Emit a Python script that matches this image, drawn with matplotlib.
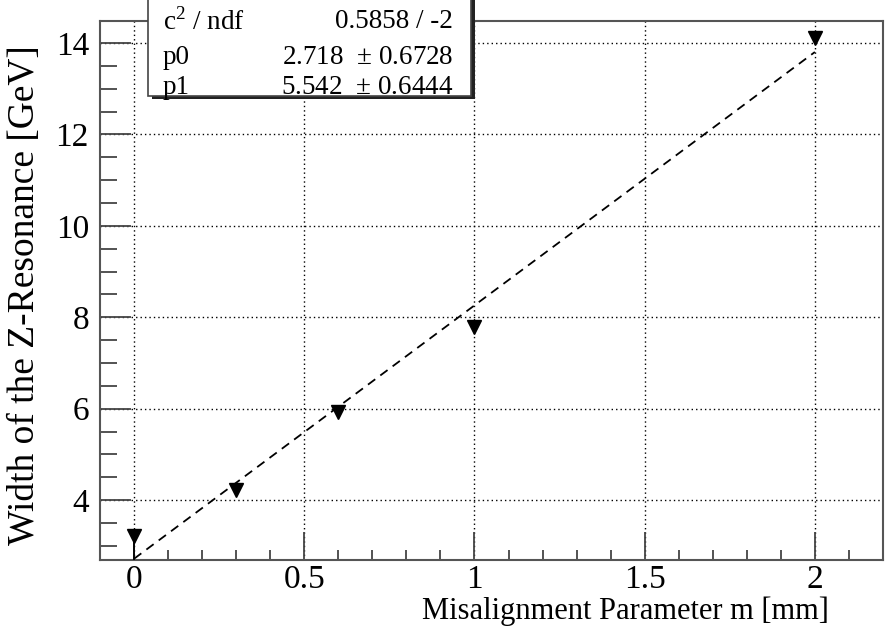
import numpy as np
import matplotlib
matplotlib.use('Agg')
import matplotlib.pyplot as plt
from matplotlib.patches import Rectangle
from matplotlib.ticker import MultipleLocator

plt.rcParams['font.family'] = ['Liberation Serif', 'DejaVu Serif']
plt.rcParams['mathtext.fontset'] = 'custom'
plt.rcParams['mathtext.rm'] = 'Liberation Serif'

# Measured widths vs misalignment
m_vals = [0.0, 0.3, 0.6, 1.0, 2.0]
width_vals = [3.21, 4.22, 5.92, 7.79, 14.1]
err_lo = [0.6, 0.0, 0.0, 0.0, 0.0]
err_hi = [0.0, 0.0, 0.0, 0.0, 0.0]

# Linear fit result  width = p0 + p1 * m
p0, p0_err = 2.718, 0.6728
p1, p1_err = 5.542, 0.6444
chi2, ndf = 0.5858, -2

fig = plt.figure(figsize=(8.9, 6.33), dpi=100)
ax = fig.add_axes([0.1124, 0.1153, 0.8797, 0.8515])

ax.set_xlim(-0.1, 2.2)
ax.set_ylim(2.69, 14.48)

# fit line
xf = np.linspace(m_vals[0], m_vals[-1], 50)
ax.plot(xf, p0 + p1 * xf, color='black', ls=(0, (5, 3.5)), lw=1.3, zorder=3)

ax.errorbar(m_vals, width_vals, yerr=[err_lo, err_hi], fmt='v', color='black',
            ms=10, elinewidth=1.3, capsize=0, zorder=4)

ax.xaxis.set_major_locator(MultipleLocator(0.5))
ax.xaxis.set_minor_locator(MultipleLocator(0.1))
ax.yaxis.set_major_locator(MultipleLocator(2))
ax.yaxis.set_minor_locator(MultipleLocator(0.5))
ax.set_xticks([0, 0.5, 1, 1.5, 2])
ax.set_xticklabels(['0', '0.5', '1', '1.5', '2'])

ax.grid(True, which='major', color='black', ls=(0, (1, 2.2)), lw=1.0)
ax.tick_params(axis='both', which='both', direction='in', colors='#444444',
               labelcolor='black', labelsize=24, top=False, right=False)
ax.tick_params(axis='y', which='major', length=22, width=1.3, pad=8)
ax.tick_params(axis='y', which='minor', length=12, width=1.3)
ax.tick_params(axis='x', which='major', length=20, width=1.3, pad=3)
ax.tick_params(axis='x', which='minor', length=7, width=1.3)
for s in ax.spines.values():
    s.set_color('#555555')
    s.set_linewidth(1.5)

fig.text(0.028, 0.534, 'Width of the Z-Resonance [GeV]', rotation=90,
         fontsize=27, ha='center', va='center')
fig.text(0.931, 0.034, 'Misalignment Parameter m [mm]', fontsize=22,
         ha='right', va='center')

# stats box with shadow
bx0, bx1 = 148 / 890, 471 / 890
by0, by1 = 1 - 96 / 633, 1.05
fig.patches.append(Rectangle((bx0 + 4 / 890, by0 - 3 / 633), bx1 - bx0, by1 - by0,
                             transform=fig.transFigure, facecolor='#222222',
                             edgecolor='none', zorder=5))
fig.patches.append(Rectangle((bx0, by0), bx1 - bx0, by1 - by0,
                             transform=fig.transFigure, facecolor='white',
                             edgecolor='#444444', lw=1.2, zorder=6))

rows = [('c$^{2}$ / ndf', f'{chi2:.4f} / {ndf}'),
        ('p0', f'{p0:.3f}  $\\pm$ {p0_err:.4f}'),
        ('p1', f'{p1:.3f}  $\\pm$ {p1_err:.4f}')]
row_y = [1 - 22 / 633, 1 - 57 / 633, 1 - 87 / 633]
for (lab, val), yy in zip(rows, row_y):
    fig.text(163 / 890, yy, lab, fontsize=19.5, ha='left', va='center', zorder=7)
    fig.text(453 / 890, yy, val, fontsize=19.5, ha='right', va='center', zorder=7)

fig.savefig('out.png', dpi=100)
